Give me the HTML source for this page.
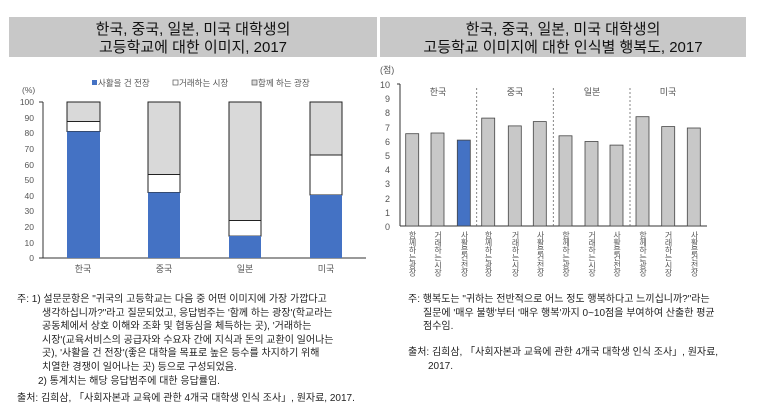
<!DOCTYPE html>
<html><head><meta charset="utf-8"><style>
body{margin:0;background:#fff;width:764px;height:411px;overflow:hidden;font-family:"Liberation Sans","Noto Sans CJK KR",sans-serif;}
svg text{font-family:"Liberation Sans","Noto Sans CJK KR",sans-serif;}
.n{position:absolute;font-size:10px;line-height:13.5px;color:#222;white-space:nowrap;}
.v{position:absolute;top:231px;writing-mode:vertical-rl;text-orientation:upright;font-size:8px;line-height:10px;width:10px;color:#555;white-space:nowrap;letter-spacing:-0.5px;}
</style></head><body>
<svg width="764" height="411" style="position:absolute;left:0;top:0">
<rect x="9" y="17" width="368" height="40" fill="#c8c8c8"/>
<text x="193" y="34" font-size="15" text-anchor="middle" fill="#111">한국, 중국, 일본, 미국 대학생의</text>
<text x="193" y="52" font-size="15" text-anchor="middle" fill="#111">고등학교에 대한 이미지, 2017</text>
<rect x="380" y="17" width="366" height="40" fill="#c8c8c8"/>
<text x="563" y="34" font-size="15" text-anchor="middle" fill="#111">한국, 중국, 일본, 미국 대학생의</text>
<text x="563" y="52" font-size="15" text-anchor="middle" fill="#111">고등학교 이미지에 대한 인식별 행복도, 2017</text>
<g font-size="8.5" fill="#555">
<rect x="92" y="80" width="5" height="5" fill="#4472c4"/><text x="98" y="86">사활을 건 전장</text>
<rect x="173" y="80" width="5" height="5" fill="#fff" stroke="#555" stroke-width="0.7"/><text x="179" y="86">거래하는 시장</text>
<rect x="252" y="80" width="5" height="5" fill="#d9d9d9" stroke="#555" stroke-width="0.7"/><text x="258" y="86">함께 하는 광장</text>
<text x="22" y="93">(%)</text>
</g>
<g font-size="8.5" fill="#555" text-anchor="end">
<text x="34" y="105">100</text><text x="34" y="121">90</text><text x="34" y="136">80</text><text x="34" y="152">70</text><text x="34" y="168">60</text><text x="34" y="183">50</text><text x="34" y="199">40</text><text x="34" y="214">30</text><text x="34" y="230">20</text><text x="34" y="246">10</text><text x="34" y="261">0</text>
</g>
<g stroke="#333" stroke-width="1">
<line x1="43" y1="102" x2="43" y2="258"/><line x1="43" y1="258" x2="366" y2="258"/>
<line x1="39" y1="102" x2="43" y2="102"/><line x1="39" y1="258" x2="43" y2="258"/>
</g>
<g stroke="#222" stroke-width="1">
<rect x="67" y="102" width="33" height="19.5" fill="#d9d9d9"/><rect x="67" y="121.5" width="33" height="10" fill="#fff"/><rect x="67" y="131.5" width="33" height="126.5" fill="#4472c4" stroke="none"/>
<rect x="148" y="102" width="32" height="72.5" fill="#d9d9d9"/><rect x="148" y="174.5" width="32" height="18" fill="#fff"/><rect x="148" y="192.5" width="32" height="65.5" fill="#4472c4" stroke="none"/>
<rect x="229" y="102" width="32" height="118.5" fill="#d9d9d9"/><rect x="229" y="220.5" width="32" height="15.6" fill="#fff"/><rect x="229" y="236" width="32" height="22" fill="#4472c4" stroke="none"/>
<rect x="310" y="102" width="32" height="53" fill="#d9d9d9"/><rect x="310" y="155" width="32" height="40" fill="#fff"/><rect x="310" y="195" width="32" height="63" fill="#4472c4" stroke="none"/>
</g>
<g font-size="9" fill="#555" text-anchor="middle">
<text x="83" y="272">한국</text><text x="164" y="272">중국</text><text x="245" y="272">일본</text><text x="326" y="272">미국</text>
</g>
<g font-size="9" fill="#555"><text x="380" y="73">(점)</text></g>
<g font-size="9" fill="#555" text-anchor="end">
<text x="390" y="88">10</text><text x="390" y="102">9</text><text x="390" y="116">8</text><text x="390" y="131">7</text><text x="390" y="145">6</text><text x="390" y="159">5</text><text x="390" y="173">4</text><text x="390" y="187">3</text><text x="390" y="202">2</text><text x="390" y="216">1</text><text x="390" y="230">0</text>
</g>
<g stroke="#333" stroke-width="1">
<line x1="400" y1="84" x2="400" y2="226"/><line x1="400" y1="226" x2="707" y2="226"/><line x1="397" y1="84" x2="400" y2="84"/>
</g>
<g stroke="#666" stroke-width="0.8" stroke-dasharray="2,2">
<line x1="476.7" y1="88" x2="476.7" y2="226"/><line x1="553.3" y1="88" x2="553.3" y2="226"/><line x1="630" y1="88" x2="630" y2="226"/>
</g>
<g stroke="#444" stroke-width="0.8" fill="#c8c8c8">
<rect x="405.7" y="133.7" width="13" height="92.3"/>
<rect x="431" y="133" width="13" height="93"/>
<rect x="457.3" y="140.1" width="13" height="85.9" fill="#4472c4"/>
<rect x="481.7" y="118.1" width="13" height="107.9"/>
<rect x="508.3" y="125.9" width="13" height="100.1"/>
<rect x="533.3" y="121.6" width="13" height="104.4"/>
<rect x="559" y="135.8" width="13" height="90.2"/>
<rect x="585" y="141.5" width="13" height="84.5"/>
<rect x="610" y="145.1" width="13" height="80.9"/>
<rect x="636" y="116.7" width="13" height="109.3"/>
<rect x="661.7" y="126.6" width="13" height="99.4"/>
<rect x="687.3" y="128" width="13" height="98"/>
</g>
<g font-size="9" fill="#555" text-anchor="middle">
<text x="438" y="95">한국</text><text x="515" y="95">중국</text><text x="592" y="95">일본</text><text x="668" y="95">미국</text>
</g>
</svg>
<div class="v" style="left:407px">함께하는광장</div>
<div class="v" style="left:432.5px">거래하는시장</div>
<div class="v" style="left:459px">사활을건전장</div>
<div class="v" style="left:483px">함께하는광장</div>
<div class="v" style="left:510px">거래하는시장</div>
<div class="v" style="left:535px">사활을건전장</div>
<div class="v" style="left:560.5px">함께하는광장</div>
<div class="v" style="left:586.5px">거래하는시장</div>
<div class="v" style="left:611.5px">사활을건전장</div>
<div class="v" style="left:637.5px">함께하는광장</div>
<div class="v" style="left:663px">거래하는시장</div>
<div class="v" style="left:689px">사활을건전장</div>
<div class="n" style="left:17px;top:293px">주: 1) 설문문항은 "귀국의 고등학교는 다음 중 어떤 이미지에 가장 가깝다고<br>
<span style="padding-left:25px">생각하십니까?"라고 질문되었고, 응답범주는 '함께 하는 광장'(학교라는</span><br>
<span style="padding-left:25px">공동체에서 상호 이해와 조화 및 협동심을 체득하는 곳), '거래하는</span><br>
<span style="padding-left:25px">시장'(교육서비스의 공급자와 수요자 간에 지식과 돈의 교환이 일어나는</span><br>
<span style="padding-left:25px">곳), '사활을 건 전장'(좋은 대학을 목표로 높은 등수를 차지하기 위해</span><br>
<span style="padding-left:25px">치열한 경쟁이 일어나는 곳) 등으로 구성되었음.</span></div>
<div class="n" style="left:38px;top:375px">2) 통계치는 해당 응답범주에 대한 응답률임.</div>
<div class="n" style="left:17px;top:392px">출처: 김희삼, 「사회자본과 교육에 관한 4개국 대학생 인식 조사」, 원자료, 2017.</div>
<div class="n" style="left:408px;top:293px">주: 행복도는 "귀하는 전반적으로 어느 정도 행복하다고 느끼십니까?"라는<br>
<span style="padding-left:15px">질문에 '매우 불행'부터 '매우 행복'까지 0~10점을 부여하여 산출한 평균</span><br>
<span style="padding-left:15px">점수임.</span></div>
<div class="n" style="left:408px;top:346px">출처: 김희삼, 「사회자본과 교육에 관한 4개국 대학생 인식 조사」, 원자료,<br>
<span style="padding-left:20px">2017.</span></div>
</body></html>
